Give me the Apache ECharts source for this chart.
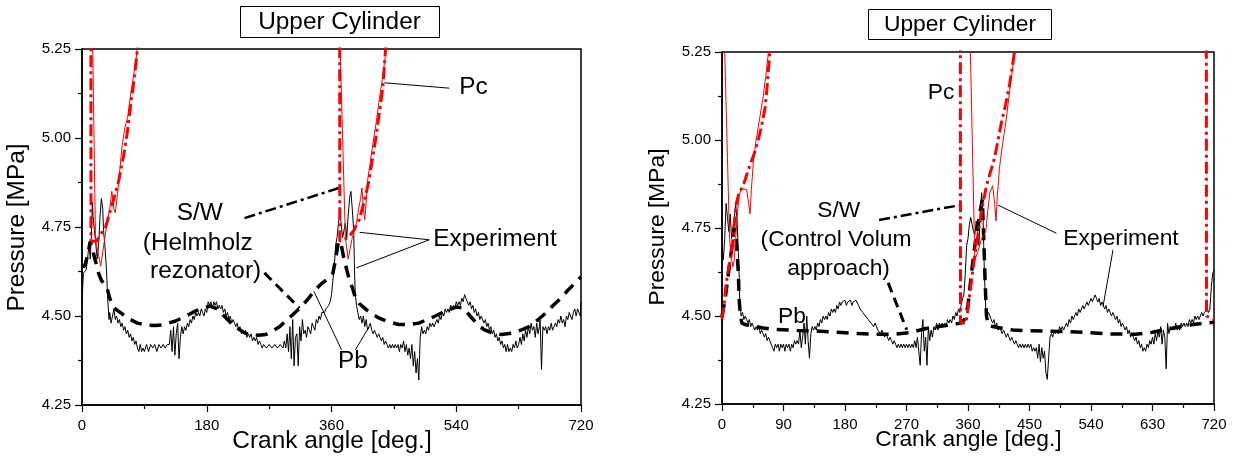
<!DOCTYPE html>
<html>
<head>
<meta charset="utf-8">
<script src="https://cdn.jsdelivr.net/npm/echarts@6/dist/echarts.min.js"></script>
<style>
html,body{margin:0;padding:0;background:#fff;}
#chart{width:1241px;height:460px;}
</style>
</head>
<body>
<div id="chart"></div>
<script>
// ---------------- DATA (crank angle [deg], pressure [MPa]) ----------------
const panelTitle = 'Upper Cylinder';
const xTitle = 'Crank angle [deg.]';
const yTitle = 'Pressure [MPa]';
const yMin = 4.25, yMax = 5.25, yStep = 0.25;
const leftXStep = 180, rightXStep = 90;

// Left panel: S/W (Helmholz rezonator)
const leftExpPb = [[0,4.54],[2,4.62],[4,4.62],[6,4.63],[8,4.66],[10,4.70],[12,4.66],[14,4.75],[15,4.82],[16,4.78],[18,4.74],[20,4.70],[22,4.66],[24,4.70],[26,4.78],[28,4.83],[30,4.80],[31,4.74],[33,4.70],[35,4.64],[36,4.60],[37,4.55],[38,4.52],[39,4.49],[40,4.51],[42,4.48],[44,4.50],[46,4.52],[48,4.49],[50,4.50],[52,4.48],[54,4.49],[56,4.47],[58,4.48],[60,4.46],[62,4.47],[64,4.45],[66,4.46],[68,4.44],[70,4.45],[72,4.43],[74,4.44],[76,4.42],[78,4.43],[80,4.41],[82,4.40],[84,4.42],[86,4.40],[88,4.41],[90,4.40],[93,4.42],[96,4.40],[99,4.42],[102,4.41],[105,4.42],[108,4.40],[111,4.42],[114,4.41],[117,4.42],[120,4.41],[123,4.42],[126,4.42],[128,4.46],[130,4.40],[132,4.47],[134,4.39],[136,4.45],[138,4.48],[140,4.38],[142,4.44],[144,4.47],[146,4.45],[148,4.47],[150,4.46],[152,4.48],[154,4.47],[156,4.49],[158,4.48],[160,4.50],[162,4.49],[164,4.51],[166,4.50],[168,4.51],[170,4.50],[172,4.52],[174,4.51],[176,4.50],[178,4.52],[180,4.51],[182,4.54],[184,4.53],[186,4.54],[188,4.52],[190,4.54],[192,4.53],[194,4.54],[196,4.52],[198,4.53],[200,4.52],[202,4.53],[204,4.51],[206,4.52],[208,4.50],[210,4.51],[212,4.49],[214,4.50],[216,4.48],[218,4.49],[220,4.48],[222,4.47],[224,4.48],[226,4.46],[228,4.47],[230,4.45],[232,4.46],[234,4.45],[236,4.46],[238,4.44],[240,4.45],[242,4.44],[244,4.45],[246,4.43],[248,4.44],[250,4.43],[252,4.44],[254,4.42],[256,4.43],[258,4.42],[260,4.41],[262,4.42],[266,4.41],[270,4.42],[274,4.41],[278,4.42],[282,4.41],[286,4.42],[290,4.41],[292,4.43],[294,4.41],[296,4.45],[298,4.40],[300,4.47],[302,4.38],[304,4.49],[306,4.36],[308,4.44],[310,4.45],[312,4.36],[314,4.47],[316,4.43],[318,4.49],[320,4.45],[322,4.46],[324,4.44],[326,4.47],[328,4.46],[330,4.45],[332,4.48],[334,4.47],[336,4.46],[338,4.49],[340,4.48],[342,4.50],[344,4.49],[346,4.51],[348,4.51],[350,4.51],[352,4.52],[354,4.52],[356,4.53],[358,4.54],[360,4.56],[362,4.60],[364,4.64],[366,4.70],[368,4.72],[370,4.76],[372,4.79],[374,4.76],[376,4.72],[378,4.74],[380,4.76],[382,4.72],[384,4.78],[386,4.83],[388,4.85],[390,4.80],[392,4.74],[393,4.65],[394,4.57],[396,4.53],[398,4.51],[400,4.49],[402,4.50],[404,4.48],[406,4.50],[408,4.47],[410,4.49],[412,4.46],[414,4.47],[416,4.48],[418,4.46],[420,4.45],[422,4.46],[424,4.45],[426,4.44],[428,4.45],[430,4.44],[432,4.43],[434,4.44],[436,4.42],[438,4.43],[440,4.42],[442,4.41],[444,4.42],[446,4.41],[448,4.42],[450,4.41],[452,4.42],[454,4.41],[456,4.42],[458,4.40],[460,4.42],[462,4.41],[464,4.43],[466,4.40],[468,4.42],[470,4.39],[472,4.41],[474,4.38],[476,4.42],[478,4.36],[480,4.40],[482,4.34],[484,4.38],[486,4.32],[488,4.44],[490,4.47],[492,4.45],[494,4.46],[496,4.45],[498,4.47],[500,4.46],[502,4.48],[504,4.47],[506,4.48],[508,4.47],[510,4.48],[512,4.49],[514,4.48],[516,4.50],[518,4.49],[520,4.51],[522,4.50],[524,4.52],[526,4.51],[528,4.52],[530,4.51],[532,4.53],[534,4.52],[536,4.53],[538,4.52],[540,4.54],[542,4.53],[544,4.54],[546,4.53],[548,4.55],[550,4.54],[552,4.56],[554,4.55],[556,4.54],[558,4.53],[560,4.54],[562,4.52],[564,4.53],[566,4.51],[568,4.52],[570,4.50],[572,4.51],[574,4.49],[576,4.50],[578,4.49],[580,4.48],[582,4.49],[584,4.47],[586,4.48],[588,4.46],[590,4.47],[592,4.45],[594,4.46],[596,4.44],[598,4.45],[600,4.43],[602,4.44],[604,4.42],[606,4.43],[608,4.41],[610,4.42],[612,4.40],[614,4.42],[616,4.40],[618,4.41],[620,4.40],[622,4.42],[624,4.41],[626,4.43],[628,4.41],[630,4.42],[632,4.44],[634,4.42],[636,4.45],[638,4.43],[640,4.46],[642,4.44],[644,4.47],[646,4.45],[648,4.48],[650,4.46],[652,4.47],[654,4.44],[656,4.48],[658,4.45],[660,4.47],[661,4.49],[663,4.35],[665,4.47],[667,4.46],[669,4.47],[671,4.45],[673,4.47],[675,4.46],[677,4.48],[679,4.46],[681,4.47],[683,4.48],[685,4.47],[687,4.49],[689,4.48],[691,4.50],[693,4.48],[695,4.49],[697,4.47],[699,4.50],[701,4.49],[703,4.51],[705,4.50],[707,4.49],[709,4.51],[711,4.52],[713,4.50],[715,4.52],[717,4.51],[719,4.50],[720,4.54]];
const leftSimPb = [[0,4.64],[4,4.64],[8,4.67],[12,4.71],[16,4.68],[20,4.65],[24,4.62],[28,4.60],[32,4.59],[36,4.58],[40,4.55],[44,4.53],[48,4.52],[55,4.51],[62,4.50],[70,4.49],[80,4.48],[92,4.475],[105,4.473],[115,4.475],[125,4.48],[135,4.486],[145,4.495],[155,4.505],[165,4.515],[175,4.522],[185,4.528],[195,4.52],[205,4.50],[215,4.48],[225,4.465],[235,4.452],[245,4.447],[255,4.446],[265,4.448],[275,4.458],[285,4.47],[295,4.488],[305,4.505],[315,4.524],[325,4.545],[335,4.57],[345,4.59],[355,4.605],[362,4.62],[366,4.66],[370,4.71],[374,4.70],[378,4.66],[382,4.63],[386,4.60],[390,4.58],[394,4.555],[400,4.535],[406,4.525],[415,4.51],[428,4.495],[440,4.485],[457,4.476],[472,4.476],[486,4.48],[498,4.49],[510,4.50],[520,4.51],[530,4.518],[540,4.525],[550,4.523],[560,4.50],[570,4.478],[580,4.462],[592,4.452],[605,4.448],[621,4.452],[633,4.46],[645,4.47],[657,4.488],[669,4.508],[680,4.53],[690,4.548],[700,4.57],[710,4.59],[720,4.61]];
const leftExpPc = [[0,6.5],[14,6.5],[15.5,5.25],[19.5,4.71],[22,4.69],[24,4.67],[27,4.64],[30,4.68],[33,4.72],[36,4.76],[40,4.80],[43,4.85],[46,4.80],[48,4.79],[50,4.82],[52,4.86],[55,4.92],[58,4.98],[62,5.03],[66,5.06],[70,5.12],[74,5.17],[78,5.22],[80,5.26],[85,5.35],[90,5.5],[100,6.5],[371,6.5],[372.5,5.25],[380,4.72],[384,4.66],[387,4.69],[390,4.72],[393,4.74],[396,4.76],[399,4.80],[402,4.83],[404,4.86],[406,4.80],[408,4.77],[410,4.82],[412,4.88],[415,4.92],[418,4.96],[421,5.0],[425,5.05],[429,5.11],[433,5.16],[437,5.22],[439,5.26],[445,5.4],[460,6.5],[720,6.5]];
const leftSimPc = [[0,6.5],[12.5,6.5],[13,4.71],[21,4.71],[27,4.73],[34,4.75],[40,4.79],[46,4.83],[53,4.88],[60,4.95],[65,5.01],[70,5.09],[75,5.16],[80,5.25],[85,5.35],[90,5.45],[100,5.7],[371.5,6.5],[372,4.71],[384,4.72],[392,4.74],[400,4.77],[407,4.82],[414,4.88],[419,4.94],[424,5.0],[429,5.07],[434,5.14],[438,5.25],[444,5.38],[450,5.5],[720,6.5]];

// Right panel: S/W (Control Volum approach)
const rightExpPb = [[0,4.69],[2,4.66],[4,4.72],[6,4.82],[8,4.78],[10,4.74],[12,4.79],[14,4.72],[16,4.75],[18,4.78],[20,4.82],[22,4.77],[24,4.68],[25,4.62],[26,4.54],[28,4.50],[30,4.51],[32,4.49],[34,4.50],[36,4.49],[38,4.48],[40,4.49],[42,4.47],[44,4.48],[46,4.47],[48,4.46],[50,4.47],[52,4.46],[54,4.47],[56,4.45],[58,4.46],[60,4.45],[62,4.44],[64,4.45],[66,4.43],[68,4.44],[70,4.43],[72,4.42],[74,4.41],[76,4.40],[78,4.42],[80,4.41],[82,4.42],[84,4.40],[86,4.42],[88,4.41],[90,4.42],[92,4.40],[94,4.42],[96,4.41],[98,4.42],[100,4.40],[102,4.42],[104,4.41],[106,4.43],[108,4.42],[110,4.43],[112,4.42],[114,4.46],[116,4.41],[118,4.44],[120,4.48],[122,4.42],[124,4.50],[126,4.43],[128,4.38],[130,4.45],[132,4.47],[134,4.46],[136,4.47],[138,4.46],[140,4.48],[142,4.47],[144,4.49],[146,4.48],[148,4.50],[150,4.49],[152,4.50],[154,4.49],[156,4.51],[158,4.50],[160,4.52],[162,4.51],[164,4.52],[166,4.51],[168,4.53],[170,4.52],[172,4.54],[174,4.53],[176,4.54],[178,4.535],[180,4.545],[182,4.53],[184,4.54],[186,4.535],[188,4.545],[190,4.53],[192,4.54],[194,4.535],[196,4.545],[198,4.54],[200,4.53],[202,4.52],[204,4.52],[206,4.51],[208,4.51],[210,4.50],[212,4.50],[214,4.49],[216,4.49],[218,4.48],[220,4.48],[222,4.47],[224,4.48],[226,4.47],[228,4.46],[230,4.46],[232,4.45],[234,4.46],[236,4.45],[238,4.44],[240,4.45],[242,4.44],[244,4.43],[246,4.44],[248,4.43],[250,4.42],[252,4.43],[254,4.42],[256,4.41],[258,4.42],[260,4.41],[262,4.42],[264,4.41],[266,4.42],[268,4.41],[270,4.42],[272,4.41],[274,4.42],[276,4.41],[278,4.42],[280,4.41],[282,4.43],[284,4.41],[286,4.44],[288,4.40],[290,4.36],[292,4.45],[294,4.49],[296,4.40],[298,4.44],[300,4.36],[302,4.47],[304,4.43],[306,4.46],[308,4.44],[310,4.47],[312,4.46],[314,4.48],[316,4.46],[318,4.48],[320,4.47],[322,4.48],[324,4.47],[326,4.48],[328,4.47],[330,4.49],[332,4.48],[334,4.49],[336,4.48],[338,4.50],[340,4.49],[342,4.51],[344,4.50],[346,4.52],[348,4.51],[350,4.53],[352,4.55],[354,4.56],[356,4.62],[358,4.70],[360,4.72],[362,4.76],[364,4.78],[366,4.76],[368,4.74],[370,4.73],[372,4.77],[374,4.74],[376,4.70],[378,4.80],[380,4.85],[382,4.78],[383,4.70],[384,4.62],[386,4.52],[388,4.50],[390,4.51],[392,4.50],[394,4.49],[396,4.48],[398,4.49],[400,4.47],[402,4.48],[404,4.46],[406,4.47],[408,4.46],[410,4.45],[412,4.46],[414,4.45],[416,4.44],[418,4.45],[420,4.44],[422,4.43],[424,4.44],[426,4.43],[428,4.42],[430,4.43],[432,4.42],[434,4.41],[436,4.42],[438,4.41],[440,4.42],[442,4.41],[444,4.42],[446,4.41],[448,4.42],[450,4.41],[452,4.42],[454,4.40],[456,4.41],[458,4.40],[460,4.41],[462,4.38],[464,4.42],[466,4.37],[468,4.41],[470,4.38],[472,4.40],[474,4.34],[476,4.32],[478,4.38],[480,4.44],[482,4.45],[484,4.44],[486,4.46],[488,4.45],[490,4.46],[492,4.45],[494,4.47],[496,4.46],[498,4.47],[500,4.46],[502,4.47],[504,4.48],[506,4.47],[508,4.49],[510,4.48],[512,4.50],[514,4.49],[516,4.50],[518,4.51],[520,4.50],[522,4.52],[524,4.51],[526,4.52],[528,4.53],[530,4.52],[532,4.53],[534,4.54],[536,4.53],[538,4.54],[540,4.55],[542,4.54],[544,4.55],[546,4.56],[548,4.55],[550,4.54],[552,4.55],[554,4.53],[556,4.54],[558,4.53],[560,4.52],[562,4.53],[564,4.51],[566,4.52],[568,4.51],[570,4.50],[572,4.51],[574,4.50],[576,4.49],[578,4.50],[580,4.48],[582,4.49],[584,4.47],[586,4.48],[588,4.47],[590,4.46],[592,4.47],[594,4.45],[596,4.46],[598,4.44],[600,4.45],[602,4.44],[604,4.43],[606,4.44],[608,4.42],[610,4.43],[612,4.41],[614,4.42],[616,4.40],[618,4.41],[620,4.40],[622,4.42],[624,4.41],[626,4.43],[628,4.42],[630,4.44],[632,4.42],[634,4.45],[636,4.43],[638,4.46],[640,4.44],[642,4.47],[644,4.42],[646,4.46],[648,4.44],[650,4.35],[652,4.48],[654,4.45],[656,4.47],[658,4.46],[660,4.47],[662,4.46],[664,4.48],[666,4.46],[668,4.47],[670,4.46],[672,4.48],[674,4.47],[676,4.48],[678,4.47],[680,4.48],[682,4.47],[684,4.49],[686,4.48],[688,4.49],[690,4.48],[692,4.50],[694,4.49],[696,4.50],[698,4.49],[700,4.50],[702,4.51],[704,4.50],[706,4.51],[708,4.51],[710,4.52],[712,4.51],[714,4.52],[716,4.58],[718,4.62],[720,4.63]];
const rightSimPb = [[0,4.50],[4,4.54],[8,4.60],[12,4.66],[16,4.72],[18,4.75],[20,4.73],[22,4.68],[24,4.62],[25,4.55],[27,4.50],[29,4.48],[35,4.475],[45,4.472],[60,4.466],[75,4.462],[90,4.461],[110,4.459],[130,4.458],[150,4.456],[175,4.453],[200,4.45],[225,4.448],[250,4.448],[275,4.453],[300,4.465],[325,4.472],[340,4.477],[350,4.48],[355,4.49],[360,4.53],[365,4.62],[370,4.70],[374,4.75],[378,4.80],[381,4.83],[383,4.72],[385,4.60],[387,4.50],[390,4.473],[396,4.47],[410,4.465],[426,4.46],[450,4.458],[475,4.457],[500,4.456],[534,4.453],[570,4.449],[605,4.448],[630,4.454],[650,4.462],[672,4.47],[690,4.476],[708,4.48],[720,4.482]];
const rightExpPc = [[0,6.5],[3,5.6],[4,5.25],[8,4.95],[11,4.72],[14,4.66],[16,4.64],[18,4.66],[20,4.72],[22,4.78],[25,4.84],[28,4.86],[32,4.86],[36,4.86],[39,4.82],[41,4.79],[43,4.86],[46,4.94],[50,5.0],[55,5.06],[60,5.12],[64,5.18],[68,5.25],[72,5.33],[80,5.6],[100,6.5],[362,6.5],[363.5,5.25],[370,4.66],[374,4.68],[377,4.70],[380,4.72],[383,4.73],[386,4.74],[389,4.80],[392,4.85],[396,4.87],[399,4.82],[401,4.77],[403,4.84],[406,4.92],[410,4.98],[416,5.06],[421,5.14],[425,5.20],[428,5.25],[432,5.33],[440,5.5],[460,6.5],[720,6.5]];
const rightSimPc = [[0,4.49],[3,4.53],[6,4.59],[10,4.64],[14,4.68],[17,4.74],[21,4.82],[25,4.85],[31,4.87],[36,4.90],[41,4.93],[47,4.96],[53,5.0],[58,5.04],[63,5.09],[66,5.15],[70,5.25],[74,5.35],[80,5.5],[100,6.5],[348.5,6.5],[349,4.48],[354,4.48],[357,4.48],[360,4.52],[363,4.57],[367,4.63],[372,4.70],[377,4.76],[382,4.82],[387,4.87],[393,4.91],[399,4.95],[404,5.0],[409,5.05],[415,5.10],[421,5.16],[425,5.21],[428,5.25],[432,5.32],[440,5.5],[460,6.5],[708.5,6.5],[709,4.50],[720,4.49]];

// Annotation leader lines (data coordinates)
const leftLeaders = {
  pc: [[436.5,5.155],[530,5.14]],
  expToPc: [[501,4.714],[400.5,4.735]],
  expToPb: [[501,4.714],[395.7,4.635]],
  pbToSim: [[374.5,4.405],[334.6,4.569]],
  pbToExp: [[394.5,4.405],[414.4,4.47]],
  sw: [[234.5,4.775],[371.6,4.86]],
  model: [[263.2,4.621],[313.9,4.522]]
};
const rightLeaders = {
  sw: [[229.9,4.773],[348.7,4.815]],
  model: [[243.2,4.594],[270.3,4.461]],
  expToPc: [[489.4,4.735],[404,4.815]],
  expToPb: [[572.2,4.688],[557.6,4.527]]
};

// ---------------- CHART ----------------
const FONT = 'Liberation Sans, Arial, Helvetica, sans-serif';
const chart = echarts.init(document.getElementById('chart'), null, {renderer:'canvas'});

function leader(pts, style){
  return [{coord: pts[0], lineStyle: style}, {coord: pts[1]}];
}
const thin = {color:'#000', width:1, type:'solid'};
const dashDot = {color:'#000', width:2.5, type:[11,4,3,4]};
const dashed = {color:'#000', width:3, type:[10,6]};
const simPbStyle = {color:'#000', width:3.5, type:[12,8]};
const simPcStyle = {color:'#ff0000', width:3, type:[12,4,3,4]};

function xAxis(gi, step){
  return {
    type:'value', gridIndex:gi, min:0, max:720, interval:step,
    axisLine:{show:true, onZero:false, lineStyle:{color:'#000', width:1.5}},
    axisTick:{show:true, length:7, lineStyle:{color:'#000', width:1.2}},
    minorTick:{show:true, splitNumber:2, length:4, lineStyle:{color:'#000', width:1.2}},
    splitLine:{show:false},
    axisLabel:{color:'#000', fontSize:15, fontFamily:FONT, margin:13}
  };
}
function yAxis(gi){
  return {
    type:'value', gridIndex:gi, min:yMin, max:yMax, interval:yStep,
    axisLine:{show:true, lineStyle:{color:'#000', width:1.5}},
    axisTick:{show:true, length:7, lineStyle:{color:'#000', width:1.2}},
    minorTick:{show:true, splitNumber:2, length:4, lineStyle:{color:'#000', width:1.2}},
    splitLine:{show:false},
    axisLabel:{color:'#000', fontSize:15, fontFamily:FONT, margin:11, formatter: v => v.toFixed(2)}
  };
}
function line(name, gi, data, style, z, markLineData){
  const s = {
    name, type:'line', xAxisIndex:gi, yAxisIndex:gi, data,
    showSymbol:false, symbol:'none', clip:true, z, animation:false, silent:true,
    lineStyle:style
  };
  if (markLineData){
    s.markLine = {silent:true, symbol:['none','none'], animation:false,
      label:{show:false}, emphasis:{disabled:true}, data:markLineData};
  }
  return s;
}
function txt(x, y, text, size, extra){
  return Object.assign({type:'text', x, y, silent:true,
    style:{text, fontSize:size, fontFamily:FONT, fill:'#000', align:'center', verticalAlign:'middle'}}, extra||{});
}

const LF = 24.4, RF = 22.8;

chart.setOption({
  backgroundColor:'#fff',
  animation:false,
  grid:[
    {left:82, right:660, top:49, bottom:55, show:true, borderColor:'#000', borderWidth:1.5, backgroundColor:'transparent'},
    {left:722, right:27, top:52, bottom:56, show:true, borderColor:'#000', borderWidth:1.5, backgroundColor:'transparent'}
  ],
  xAxis:[xAxis(0, leftXStep), xAxis(1, rightXStep)],
  yAxis:[yAxis(0), yAxis(1)],
  series:[
    line('Experiment Pb', 0, leftExpPb, {color:'#000', width:1}, 2, [
      leader(leftLeaders.pc, thin), leader(leftLeaders.expToPc, thin), leader(leftLeaders.expToPb, thin),
      leader(leftLeaders.pbToSim, thin), leader(leftLeaders.pbToExp, thin),
      leader(leftLeaders.sw, dashDot), leader(leftLeaders.model, dashed)
    ]),
    line('S/W Pb', 0, leftSimPb, simPbStyle, 3),
    line('Experiment Pc', 0, leftExpPc, {color:'#ff0000', width:1}, 4),
    line('S/W Pc', 0, leftSimPc, simPcStyle, 5),
    line('Experiment Pb', 1, rightExpPb, {color:'#000', width:1}, 2, [
      leader(rightLeaders.sw, dashDot), leader(rightLeaders.model, dashed),
      leader(rightLeaders.expToPc, thin), leader(rightLeaders.expToPb, thin)
    ]),
    line('S/W Pb', 1, rightSimPb, simPbStyle, 3),
    line('Experiment Pc', 1, rightExpPc, {color:'#ff0000', width:1}, 4),
    line('S/W Pc', 1, rightSimPc, simPcStyle, 5)
  ],
  graphic:[
    // title boxes
    {type:'rect', shape:{x:240.5, y:6.5, width:199, height:31}, style:{fill:'#fff', stroke:'#000', lineWidth:1}, silent:true},
    txt(339.5, 22, panelTitle, LF),
    {type:'rect', shape:{x:868.5, y:9.5, width:183, height:30}, style:{fill:'#fff', stroke:'#000', lineWidth:1}, silent:true},
    txt(960, 25, panelTitle, RF),
    // axis titles
    txt(332, 441, xTitle, LF),
    txt(968.5, 440, xTitle, RF),
    txt(17.5, 227.5, yTitle, LF, {rotation:Math.PI/2}),
    txt(657.5, 227, yTitle, RF, {rotation:Math.PI/2}),
    // left annotations
    txt(473.5, 87.5, 'Pc', LF),
    txt(199.7, 213, 'S/W', LF),
    txt(197.7, 243.5, '(Helmholz', LF),
    txt(205.6, 271.5, 'rezonator)', LF),
    txt(495, 239, 'Experiment', LF),
    txt(353, 361, 'Pb', LF),
    // right annotations
    txt(941, 92.5, 'Pc', RF),
    txt(838.8, 211, 'S/W', RF),
    txt(836, 239.5, '(Control Volum', RF),
    txt(838.6, 268.5, 'approach)', RF),
    txt(792, 316.5, 'Pb', RF),
    txt(1121, 239, 'Experiment', RF)
  ]
});
</script>
</body>
</html>
